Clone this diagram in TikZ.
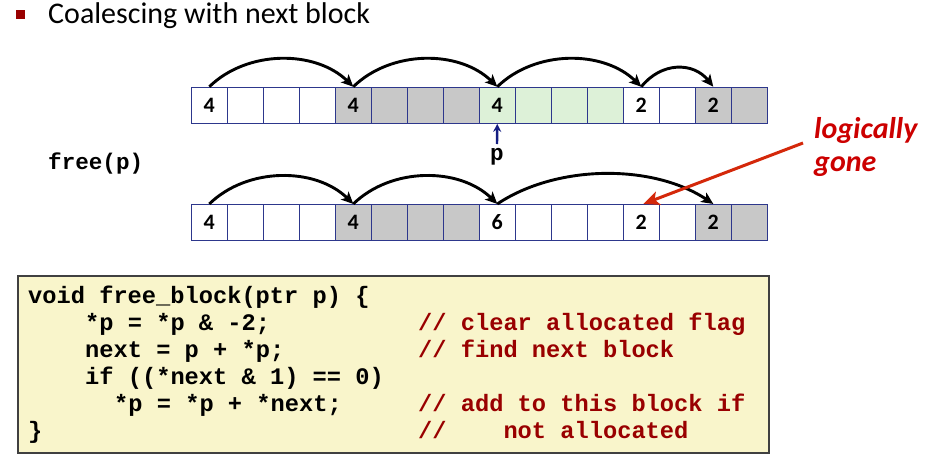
\documentclass[tikz,border=0pt]{standalone}
\usepackage{fontspec}
\setmainfont{Carlito}
\setmonofont{Liberation Mono}
\usetikzlibrary{arrows.meta,calc}
\definecolor{cellborder}{RGB}{45,55,140}
\definecolor{cellgray}{RGB}{200,200,200}
\definecolor{cellgreen}{RGB}{221,241,216}
\definecolor{codefill}{RGB}{249,245,203}
\definecolor{codeborder}{RGB}{64,64,64}
\definecolor{commentred}{RGB}{153,0,0}
\definecolor{gonered}{RGB}{204,0,0}
\definecolor{arrowred}{RGB}{212,40,10}
\definecolor{bulletred}{RGB}{153,0,0}
\definecolor{pblue}{RGB}{20,30,130}
\tikzset{
  cellbox/.style={draw=cellborder, line width=1.1pt, minimum size=36pt, inner sep=0pt,
    font=\fontsize{22}{26}\selectfont\bfseries},
  hop/.style={draw=black, line width=2.9pt, -{Stealth[length=12pt,width=11pt,inset=3pt]}},
  redarr/.style={draw=arrowred, line width=3pt, -{Stealth[length=16pt,width=14pt,inset=4pt]}},
  bluearr/.style={draw=pblue, line width=2.4pt, -{Stealth[length=8pt,width=8pt]}},
  codeline/.style={anchor=base west, inner sep=0pt, font=\fontsize{23.7}{27}\selectfont\ttfamily\bfseries},
  commentline/.style={codeline, text=commentred},
}
\begin{document}
\begin{tikzpicture}[x=1pt,y=-1pt]
\useasboundingbox (0,0) rectangle (944,461);
% title
\fill[bulletred] (16,10) rectangle (25,19);
\node[anchor=west, inner sep=0pt, font=\fontsize{30}{34}\selectfont] (title) at (48,16) {Coalescing with next block};
% row 1
\foreach \i/\c/\t in {0/white/4,1/white/{},2/white/{},3/white/{},4/cellgray/4,5/cellgray/{},6/cellgray/{},7/cellgray/{},8/cellgreen/4,9/cellgreen/{},10/cellgreen/{},11/cellgreen/{},12/white/2,13/white/{},14/cellgray/2,15/cellgray/{}}
  \node[cellbox, fill=\c] (a\i) at ({209.3+36*\i},105.3) {\t};
% row 2
\foreach \i/\c/\t in {0/white/4,1/white/{},2/white/{},3/white/{},4/cellgray/4,5/cellgray/{},6/cellgray/{},7/cellgray/{},8/white/6,9/white/{},10/white/{},11/white/{},12/white/2,13/white/{},14/cellgray/2,15/cellgray/{}}
  \node[cellbox, fill=\c] (b\i) at ({209.3+36*\i},222.5) {\t};
% hops row 1
\draw[hop] (a0.north) .. controls +(38,-37) and +(-38,-37) .. (a4.north);
\draw[hop] (a4.north) .. controls +(38,-37) and +(-38,-37) .. (a8.north);
\draw[hop] (a8.north) .. controls +(38,-37) and +(-38,-37) .. (a12.north);
\draw[hop] (a12.north) .. controls +(20,-25) and +(-20,-25) .. (a14.north);
% hops row 2
\draw[hop] (b0.north) .. controls +(38,-37) and +(-38,-37) .. (b4.north);
\draw[hop] (b4.north) .. controls +(38,-37) and +(-38,-37) .. (b8.north);
\draw[hop] (b8.north) .. controls +(60,-40) and +(-60,-40) .. (b14.north);
% p pointer
\node[inner sep=0pt, font=\fontsize{22.6}{27}\selectfont\ttfamily\bfseries] (plabel) at (497,157) {p};
\coordinate (ptail) at (497,144);
\draw[bluearr] (ptail) -- (a8.south);
% free(p)
\node[anchor=west, inner sep=0pt, font=\fontsize{22.6}{27}\selectfont\ttfamily\bfseries] (freep) at (48,163) {free(p)};
% logically gone
\node[anchor=base west, inner sep=0pt, text=gonered, font=\fontsize{30}{33}\selectfont\bfseries\itshape] (logic) at (814,138) {logically};
\node[anchor=base west, inner sep=0pt, text=gonered, font=\fontsize{30}{33}\selectfont\bfseries\itshape] (gone) at (814,171) {gone};
\coordinate (rtail) at (803,143);
\draw[redarr] (rtail) -- ($(b12.north)+(2,0)$);
% code box
\node[draw=codeborder, fill=codefill, line width=1.6pt, anchor=north west, minimum width=751pt, minimum height=177pt, inner sep=0pt] (codebox) at (17,275) {};
\node[codeline] (l1) at (28,303) {void free\_block(ptr p) \{};
\node[codeline] (l2) at (85,330) {*p = *p \& -2;};
\node[codeline] (l3) at (85,357) {next = p + *p;};
\node[codeline] (l4) at (85,384) {if ((*next \& 1) == 0)};
\node[codeline] (l5) at (114,411) {*p = *p + *next;};
\node[codeline] (l6) at (28,438) {\}};
\node[commentline] (c2) at (418,330) {// clear allocated flag};
\node[commentline] (c3) at (418,357) {// find next block};
\node[commentline] (c5) at (418,411) {// add to this block if};
\node[commentline] (c6) at (418,438) {//\ \ \ \ not allocated};
\end{tikzpicture}
\end{document}
